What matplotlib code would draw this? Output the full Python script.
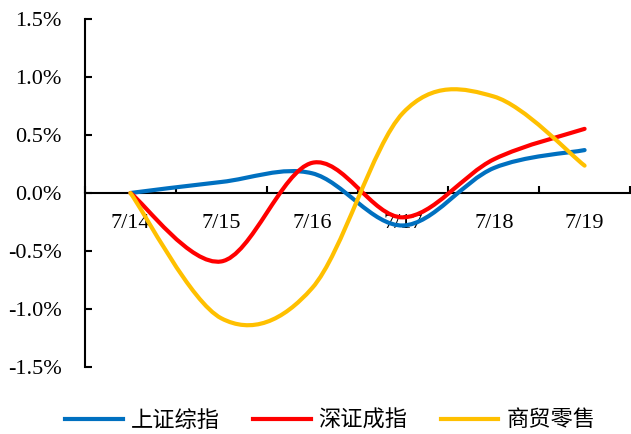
import matplotlib
matplotlib.use("Agg")
import matplotlib.pyplot as plt
from matplotlib.path import Path
from matplotlib.patches import PathPatch
from matplotlib.lines import Line2D
from matplotlib.ticker import FixedLocator, FuncFormatter

categories = ["7/14", "7/15", "7/16", "7/17", "7/18", "7/19"]
sh_index = [0.00, 0.095, 0.17, -0.28, 0.215, 0.37]
sz_index = [0.00, -0.59, 0.26, -0.21, 0.29, 0.553]
retail = [0.00, -1.08, -0.82, 0.69, 0.832, 0.236]
series_names = ["上证综指", "深证成指", "商贸零售"]
colors = ["#0070C0", "#FF0000", "#FFC000"]
yticks = [-1.5, -1.0, -0.5, 0.0, 0.5, 1.0, 1.5]

W, H = 631, 434
fig = plt.figure(figsize=(W / 100, H / 100), dpi=100)
ax = fig.add_axes([85 / W, 1 - 367 / H, (630 - 85) / W, (367 - 19) / H])

xs = list(range(len(categories)))


def smooth_path(x, y):
    n = len(x)
    verts = [(x[0], y[0])]
    codes = [Path.MOVETO]
    for i in range(n - 1):
        xp, yp = (x[i - 1], y[i - 1]) if i > 0 else (x[i], y[i])
        xn2, yn2 = (x[i + 2], y[i + 2]) if i + 2 < n else (x[i + 1], y[i + 1])
        c1 = (x[i] + (x[i + 1] - xp) / 6, y[i] + (y[i + 1] - yp) / 6)
        c2 = (x[i + 1] - (xn2 - x[i]) / 6, y[i + 1] - (yn2 - y[i]) / 6)
        verts += [c1, c2, (x[i + 1], y[i + 1])]
        codes += [Path.CURVE4] * 3
    return Path(verts, codes)


for vals, c in zip([sh_index, sz_index, retail], colors):
    patch = PathPatch(smooth_path(xs, vals), facecolor="none", edgecolor=c,
                      lw=3.0, capstyle="round", joinstyle="round",
                      transform=ax.transData, zorder=3)
    ax.add_patch(patch)

ax.set_xlim(-0.5, len(categories) - 0.5)
ax.set_ylim(-1.5, 1.5)

for s in ["top", "right"]:
    ax.spines[s].set_visible(False)
ax.spines["bottom"].set_position(("data", 0))
ax.spines["bottom"].set_linewidth(1.5)
ax.spines["left"].set_linewidth(1.5)

serif = "Liberation Serif"
ax.xaxis.set_major_locator(FixedLocator(xs))
ax.set_xticklabels(categories, fontfamily=serif, fontsize=16)
ax.xaxis.set_minor_locator(FixedLocator([i - 0.5 for i in range(len(categories) + 1)]))
ax.tick_params(axis="x", which="major", length=0, pad=15)
ax.tick_params(axis="x", which="minor", direction="in", length=5, width=1.5)

ax.yaxis.set_major_locator(FixedLocator(yticks))
ax.yaxis.set_major_formatter(FuncFormatter(lambda v, p: f"{v:.1f}%"))
ax.tick_params(axis="y", direction="in", length=5, width=1.5, pad=17, labelsize=16)
for lab in ax.get_yticklabels():
    lab.set_fontfamily(serif)

handles = [Line2D([0], [0], color=c, lw=3.0) for c in colors]
leg = fig.legend(handles, series_names, loc="center", bbox_to_anchor=(330 / W, 1 - 420 / H),
                 ncol=3, frameon=False, handlelength=2.6, columnspacing=1.5,
                 handletextpad=0.35,
                 prop={"family": ["Noto Sans CJK SC", "DejaVu Sans"], "size": 16})

fig.savefig("out.png", dpi=100)
